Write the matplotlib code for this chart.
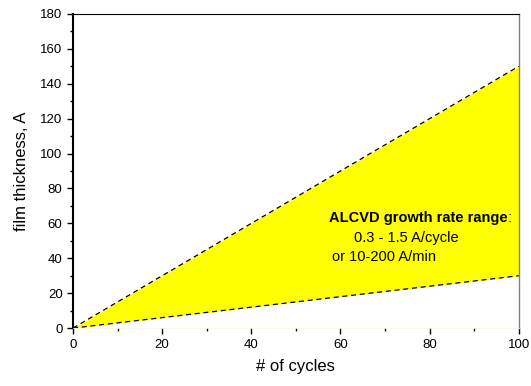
import matplotlib.pyplot as plt
import numpy as np
from matplotlib.ticker import MultipleLocator

plt.rcParams['font.family'] = ['Liberation Sans', 'DejaVu Sans']

# data
cycles = np.array([0, 100])
low_rate = 0.3   # A/cycle
high_rate = 1.5  # A/cycle
thick_low = low_rate * cycles
thick_high = high_rate * cycles

fig = plt.figure(figsize=(5.31, 3.86), dpi=100)
ax = fig.add_axes([0.1375, 0.150, 0.8395, 0.814])

ax.fill_between(cycles, thick_low, thick_high, color='#ffff00', linewidth=0)
ax.plot(cycles, thick_high, 'k--', lw=0.9, dashes=(4, 3))
ax.plot(cycles, thick_low, 'k--', lw=0.9, dashes=(4, 3))

ax.set_xlim(0, 100)
ax.set_ylim(0, 180)
ax.xaxis.set_major_locator(MultipleLocator(20))
ax.xaxis.set_minor_locator(MultipleLocator(10))
ax.yaxis.set_major_locator(MultipleLocator(20))
ax.yaxis.set_minor_locator(MultipleLocator(10))
ax.tick_params(which='both', direction='out', labelsize=9.5, width=1)
ax.tick_params(which='major', length=4)
ax.tick_params(which='minor', length=2.5)

ax.spines['left'].set_linewidth(1.5)
ax.spines['bottom'].set_color('#f5f5e0')
ax.spines['bottom'].set_linewidth(0.5)
ax.spines['top'].set_linewidth(0.8)
ax.spines['right'].set_color('#808080')
ax.spines['right'].set_linewidth(1)

ax.set_xlabel('# of cycles', fontsize=12, labelpad=6)
ax.set_ylabel('film thickness, A', fontsize=12, labelpad=8)

t = ax.text(57.5, 63, 'ALCVD growth rate range', fontsize=10.5, fontweight='bold',
            ha='left', va='center')
ax.annotate(':', xy=(1, 0.5), xycoords=t, fontsize=10.5, ha='left', va='center')
ax.text(63, 51.5, '0.3 - 1.5 A/cycle', fontsize=10.5, ha='left', va='center')
ax.text(58, 40.5, 'or 10-200 A/min', fontsize=10.5, ha='left', va='center')

plt.savefig('out.png', dpi=100)
